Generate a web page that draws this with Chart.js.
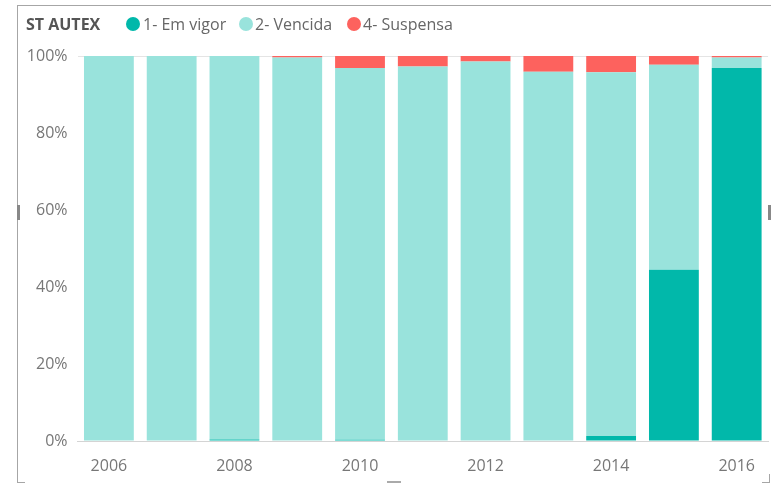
<!DOCTYPE html>
<html>
<head>
<meta charset="utf-8">
<script src="https://cdn.jsdelivr.net/npm/chart.js@4.4.1/dist/chart.umd.min.js"></script>
<style>
  html, body { margin: 0; padding: 0; background: #fff; }
  #wrap { position: relative; width: 771px; height: 485px; overflow: hidden; font-family: "Open Sans", sans-serif; }
  #chart { position: absolute; left: 0; top: 0; }
  .frame { position: absolute; background: #a6a6a6; }
  .lg { position: absolute; top: 13px; font-size: 16px; color: #666; white-space: nowrap; line-height: 22px; }
  .lg b { color: #555; }
  .dot { position: absolute; top: 17px; width: 14px; height: 14px; border-radius: 50%; }
</style>
</head>
<body>
<div id="wrap">
  <canvas id="chart" width="771" height="485"></canvas>
  <!-- visual frame -->
  <div class="frame" style="left:17px;top:5px;width:754px;height:1px"></div>
  <div class="frame" style="left:17px;top:5px;width:1px;height:478px"></div>
  <div class="frame" style="left:17px;top:482px;width:8px;height:1px"></div>
  <div class="frame" style="left:762px;top:482px;width:8px;height:1px"></div>
  <div class="frame" style="left:769px;top:474px;width:1px;height:9px"></div>
  <div class="frame" style="left:17px;top:205px;width:3px;height:15px;background:#888"></div>
  <div class="frame" style="left:768px;top:205px;width:3px;height:15px;background:#888"></div>
  <div class="frame" style="left:387px;top:481px;width:14px;height:2px;background:#aaa"></div>

  <div class="lg" style="left:26px"><b>ST AUTEX</b></div>
  <div id="legend"></div>
</div>
<script>
var anos = ['2006', '2007', '2008', '2009', '2010', '2011', '2012', '2013', '2014', '2015', '2016']
var series = ['1- Em vigor', '2- Vencida', '4- Suspensa']
var emVigor   = [0, 0, 0.4, 0, 0.3, 0, 0, 0, 1.3, 44.5, 96.9]
var vencida   = [100, 100, 99.6, 99.6, 96.6, 97.3, 98.6, 95.9, 94.5, 53.2, 2.7]
var suspensa  = [0, 0, 0, 0.4, 3.1, 2.7, 1.4, 4.1, 4.2, 2.3, 0.4]
var cores = ['#01b8aa', '#99e3dc', '#fd625e']
var yTicks = [0, 20, 40, 60, 80, 100]

// legenda em html
var legendPos = [[126, 143], [239, 255], [347, 363]]
var legendDiv = document.getElementById('legend')
series.forEach(function (s, i) {
  var d = document.createElement('div')
  d.className = 'dot'
  d.style.left = legendPos[i][0] + 'px'
  d.style.background = cores[i]
  legendDiv.appendChild(d)
  var t = document.createElement('div')
  t.className = 'lg'
  t.style.left = legendPos[i][1] + 'px'
  t.textContent = s
  legendDiv.appendChild(t)
})

var ctx = document.getElementById('chart').getContext('2d')
var chart = new Chart(ctx, {
  type: 'bar',
  data: {
    labels: anos,
    datasets: [emVigor, vencida, suspensa].map(function (vals, i) {
      return {
        label: series[i],
        data: vals,
        backgroundColor: cores[i],
        borderWidth: 0,
        barPercentage: 50 / 63,
        categoryPercentage: 1
      }
    })
  },
  options: {
    responsive: false,
    animation: false,
    layout: { padding: { top: 56, right: 0.5, left: 0, bottom: 0 } },
    plugins: { legend: { display: false }, tooltip: { enabled: false } },
    scales: {
      x: {
        stacked: true,
        afterFit: function (scale) { scale.height = 44 },
        grid: { display: false, drawTicks: false },
        border: { display: true, color: '#d4d4d4', width: 1 },
        ticks: {
          autoSkip: false,
          maxRotation: 0,
          padding: 16,
          color: '#777',
          font: { family: 'Open Sans', size: 16 },
          callback: function (v, i) { return i % 2 === 0 ? anos[i] : '' }
        }
      },
      y: {
        stacked: true,
        min: 0,
        max: 100,
        afterFit: function (scale) { scale.width = 77.5 },
        afterBuildTicks: function (scale) {
          scale.ticks = yTicks.map(function (v) { return { value: v } })
        },
        border: { display: false },
        grid: {
          drawTicks: false,
          color: function (c) { return c.tick && c.tick.value === 100 ? '#e4e4e4' : 'rgba(0,0,0,0)' }
        },
        ticks: {
          padding: 10,
          color: '#777',
          font: { family: 'Open Sans', size: 16 },
          callback: function (v) { return v + '%' }
        }
      }
    }
  }
})
</script>
</body>
</html>
